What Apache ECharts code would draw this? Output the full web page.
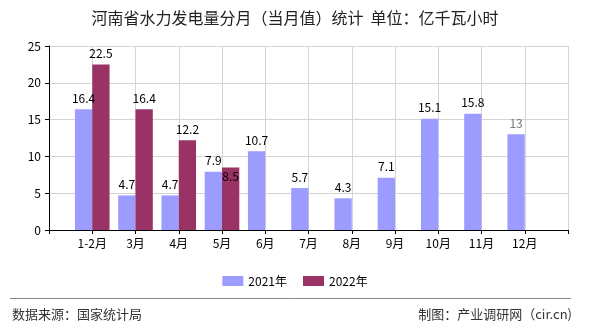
<!DOCTYPE html>
<html>
<head>
<meta charset="utf-8">
<script src="https://cdn.jsdelivr.net/npm/echarts@6/dist/echarts.min.js"></script>
<style>
html,body{margin:0;padding:0;background:#fff;}
#c{width:590px;height:330px;}
</style>
</head>
<body>
<div id="c"></div>
<script>
const categories = ['1-2月','3月','4月','5月','6月','7月','8月','9月','10月','11月','12月'];
const values2021 = [16.4, 4.7, 4.7, 7.9, 10.7, 5.7, 4.3, 7.1, 15.1, 15.8, 13];
const values2022 = [22.5, 16.4, 12.2, 8.5, null, null, null, null, null, null, null];
const yTicks = [0, 5, 10, 15, 20, 25];
const seriesNames = ['2021年', '2022年'];

const FONT = "'Noto Sans CJK SC', sans-serif";
const axisCats = [''].concat(categories, ['']);

function build(vals, special) {
  const out = ['-'];
  vals.forEach((v, i) => {
    if (v === null) { out.push('-'); return; }
    const item = { value: v };
    if (special && special[i]) item.label = special[i];
    out.push(item);
  });
  out.push('-');
  return out;
}

const d2021 = build(values2021, { 10: { color: '#777' } });
const d2022 = build(values2022, { 3: { position: 'insideTop', distance: 3 } });

const chart = echarts.init(document.getElementById('c'), null, { renderer: 'canvas' });
chart.setOption({
  animation: false,
  backgroundColor: '#fff',
  textStyle: { fontFamily: FONT },
  title: {
    text: '河南省水力发电量分月（当月值）统计  单位：亿千瓦小时',
    left: 'center',
    top: 5,
    textStyle: { fontSize: 16, fontWeight: 'normal', color: '#222', fontFamily: FONT }
  },
  legend: {
    data: seriesNames,
    left: 'center',
    top: 270,
    itemWidth: 21,
    itemHeight: 10,
    itemGap: 16,
    icon: 'rect',
    textStyle: { fontSize: 12, color: '#000', fontFamily: FONT }
  },
  grid: { left: 49, right: 22, top: 46, bottom: 100, containLabel: false },
  xAxis: {
    type: 'category',
    data: axisCats,
    boundaryGap: false,
    axisLine: { lineStyle: { color: '#000', width: 1 } },
    axisTick: { show: true, interval: 0, length: 4, lineStyle: { color: '#000' } },
    axisLabel: { interval: 0, color: '#000', fontSize: 12, margin: 7, fontFamily: FONT },
    splitLine: { show: true, interval: 0, lineStyle: { color: '#d4d4d4', width: 1 } }
  },
  yAxis: {
    type: 'value',
    min: yTicks[0],
    max: yTicks[yTicks.length - 1],
    interval: 5,
    axisLine: { show: true, lineStyle: { color: '#000', width: 1 } },
    axisTick: { show: true, length: 4, lineStyle: { color: '#000' } },
    axisLabel: { color: '#000', fontSize: 12, margin: 8, fontFamily: FONT },
    splitLine: { show: true, lineStyle: { color: '#d4d4d4', width: 1 } }
  },
  series: [
    {
      name: seriesNames[0],
      type: 'bar',
      data: d2021,
      barGap: '0%',
      barCategoryGap: '20%',
      itemStyle: { color: '#9C9CFF' },
      label: { show: true, position: 'top', distance: 5, color: '#000', fontSize: 12, fontFamily: FONT }
    },
    {
      name: seriesNames[1],
      type: 'bar',
      data: d2022,
      barGap: '0%',
      barCategoryGap: '20%',
      itemStyle: { color: '#993366' },
      label: { show: true, position: 'top', distance: 5, color: '#000', fontSize: 12, fontFamily: FONT }
    }
  ],
  graphic: [
    { type: 'line', shape: { x1: 10, y1: 298.5, x2: 571, y2: 298.5 }, style: { stroke: '#888', lineWidth: 1 } },
    { type: 'text', left: 12, top: 308, style: { text: '数据来源：国家统计局', fontSize: 13, fill: '#333', fontFamily: FONT } },
    { type: 'text', right: 18, top: 308, style: { text: '制图：产业调研网（cir.cn)', fontSize: 13, fill: '#333', fontFamily: FONT } }
  ]
});
</script>
</body>
</html>
